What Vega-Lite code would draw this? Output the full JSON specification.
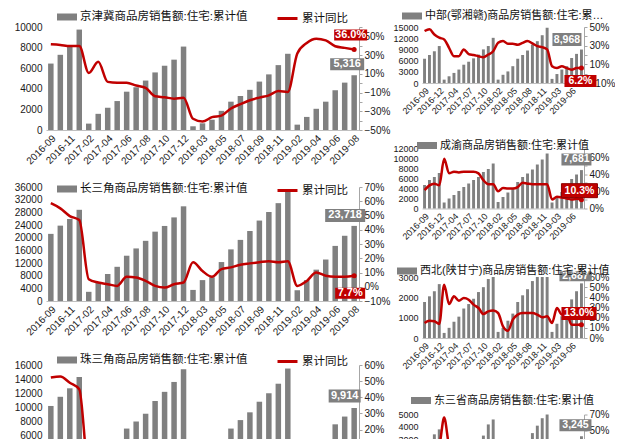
{
  "$schema": "https://vega.github.io/schema/vega-lite/v6.json",
  "padding": {"left": 14, "top": 6, "right": 0, "bottom": 0},
  "background": "white",
  "data": {"values": [
    {"m":"2016-09","jjj_amt":6450,"jjj_yoy":0.415,"csj_amt":21200,"csj_yoy":0.586,"zsj_amt":10200,"zsj_yoy":0.522,"zb_amt":6500,"zb_yoy":0.457,"cy_amt":4700,"cy_yoy":0.214,"xb_amt":1770,"xb_yoy":0.148,"dss_amt":2500,"dss_yoy":0.25},
    {"m":"2016-10","jjj_amt":7300,"jjj_yoy":0.408,"csj_amt":23800,"csj_yoy":0.55,"zsj_amt":11500,"zsj_yoy":0.529,"zb_amt":7500,"zb_yoy":0.475,"cy_amt":5700,"cy_yoy":0.27,"xb_amt":2050,"xb_yoy":0.17,"dss_amt":2900,"dss_yoy":0.22},
    {"m":"2016-11","jjj_amt":8200,"jjj_yoy":0.397,"csj_amt":25900,"csj_yoy":0.496,"zsj_amt":12700,"zsj_yoy":0.49,"zb_amt":8500,"zb_yoy":0.42,"cy_amt":6300,"cy_yoy":0.29,"xb_amt":2300,"xb_yoy":0.164,"dss_amt":3400,"dss_yoy":0.24},
    {"m":"2016-12","jjj_amt":9750,"jjj_yoy":0.397,"csj_amt":28800,"csj_yoy":0.468,"zsj_amt":14300,"zsj_yoy":0.45,"zb_amt":9900,"zb_yoy":0.385,"cy_amt":7100,"cy_yoy":0.27,"xb_amt":2650,"xb_yoy":0.138,"dss_amt":3800,"dss_yoy":0.30},
    {"m":"2017-02","jjj_amt":620,"jjj_yoy":0.11,"csj_amt":2900,"csj_yoy":0.053,"zsj_amt":1000,"zsj_yoy":-0.05,"zb_amt":900,"zb_yoy":0.367,"cy_amt":1200,"cy_yoy":0.58,"xb_amt":250,"xb_yoy":0.525,"dss_amt":300,"dss_yoy":0.66},
    {"m":"2017-03","jjj_amt":1570,"jjj_yoy":0.23,"csj_amt":5700,"csj_yoy":0.03,"zsj_amt":2300,"zsj_yoy":0.02,"zb_amt":1800,"zb_yoy":0.277,"cy_amt":2000,"cy_yoy":0.41,"xb_amt":500,"xb_yoy":0.334,"dss_amt":700,"dss_yoy":0.30},
    {"m":"2017-04","jjj_amt":2150,"jjj_yoy":0.014,"csj_amt":8500,"csj_yoy":0.018,"zsj_amt":3700,"zsj_yoy":0.05,"zb_amt":2700,"zb_yoy":0.187,"cy_amt":2700,"cy_yoy":0.43,"xb_amt":800,"xb_yoy":0.41,"dss_amt":1100,"dss_yoy":0.20},
    {"m":"2017-05","jjj_amt":2810,"jjj_yoy":0.005,"csj_amt":10800,"csj_yoy":0.006,"zsj_amt":5200,"zsj_yoy":0.03,"zb_amt":3600,"zb_yoy":0.187,"cy_amt":3500,"cy_yoy":0.42,"xb_amt":1050,"xb_yoy":0.367,"dss_amt":1500,"dss_yoy":0.15},
    {"m":"2017-06","jjj_amt":3720,"jjj_yoy":0.005,"csj_amt":14300,"csj_yoy":0.07,"zsj_amt":7000,"zsj_yoy":0.01,"zb_amt":4900,"zb_yoy":0.26,"cy_amt":4300,"cy_yoy":0.43,"xb_amt":1450,"xb_yoy":0.393,"dss_amt":1900,"dss_yoy":0.12},
    {"m":"2017-07","jjj_amt":4150,"jjj_yoy":-0.025,"csj_amt":16600,"csj_yoy":0.065,"zsj_amt":8000,"zsj_yoy":0.0,"zb_amt":5700,"zb_yoy":0.21,"cy_amt":5000,"cy_yoy":0.43,"xb_amt":1670,"xb_yoy":0.377,"dss_amt":2300,"dss_yoy":0.10},
    {"m":"2017-08","jjj_amt":4800,"jjj_yoy":-0.05,"csj_amt":19000,"csj_yoy":0.041,"zsj_amt":9100,"zsj_yoy":-0.02,"zb_amt":6600,"zb_yoy":0.20,"cy_amt":5700,"cy_yoy":0.43,"xb_amt":1930,"xb_yoy":0.328,"dss_amt":2700,"dss_yoy":0.08},
    {"m":"2017-09","jjj_amt":5590,"jjj_yoy":-0.14,"csj_amt":21900,"csj_yoy":0.006,"zsj_amt":10900,"zsj_yoy":-0.03,"zb_amt":7600,"zb_yoy":0.187,"cy_amt":6300,"cy_yoy":0.41,"xb_amt":2260,"xb_yoy":0.295,"dss_amt":2900,"dss_yoy":0.05},
    {"m":"2017-10","jjj_amt":6240,"jjj_yoy":-0.15,"csj_amt":23700,"csj_yoy":-0.006,"zsj_amt":12200,"zsj_yoy":-0.04,"zb_amt":9000,"zb_yoy":0.176,"cy_amt":7300,"cy_yoy":0.33,"xb_amt":2500,"xb_yoy":0.236,"dss_amt":3300,"dss_yoy":0.05},
    {"m":"2017-11","jjj_amt":6830,"jjj_yoy":-0.165,"csj_amt":26400,"csj_yoy":0.018,"zsj_amt":13600,"zsj_yoy":-0.06,"zb_amt":9900,"zb_yoy":0.205,"cy_amt":7900,"cy_yoy":0.284,"xb_amt":2900,"xb_yoy":0.262,"dss_amt":4200,"dss_yoy":0.06},
    {"m":"2017-12","jjj_amt":8100,"jjj_yoy":-0.155,"csj_amt":29900,"csj_yoy":0.03,"zsj_amt":15400,"zsj_yoy":-0.08,"zb_amt":12100,"zb_yoy":0.24,"cy_amt":9000,"cy_yoy":0.284,"xb_amt":3000,"xb_yoy":0.27,"dss_amt":4600,"dss_yoy":0.05},
    {"m":"2018-02","jjj_amt":360,"jjj_yoy":-0.38,"csj_amt":3500,"csj_yoy":0.172,"zsj_amt":900,"zsj_yoy":0.08,"zb_amt":900,"zb_yoy":0.33,"cy_amt":1300,"cy_yoy":0.20,"xb_amt":300,"xb_yoy":0.246,"dss_amt":300,"dss_yoy":0.0},
    {"m":"2018-03","jjj_amt":650,"jjj_yoy":-0.41,"csj_amt":6600,"csj_yoy":0.11,"zsj_amt":2100,"zsj_yoy":0.10,"zb_amt":2200,"zb_yoy":0.35,"cy_amt":2300,"cy_yoy":0.24,"xb_amt":500,"xb_yoy":0.115,"dss_amt":700,"dss_yoy":0.03},
    {"m":"2018-04","jjj_amt":1000,"jjj_yoy":-0.363,"csj_amt":7500,"csj_yoy":0.07,"zsj_amt":3500,"zsj_yoy":0.06,"zb_amt":3100,"zb_yoy":0.32,"cy_amt":3200,"cy_yoy":0.233,"xb_amt":850,"xb_yoy":0.072,"dss_amt":1100,"dss_yoy":0.05},
    {"m":"2018-05","jjj_amt":1860,"jjj_yoy":-0.346,"csj_amt":12300,"csj_yoy":0.124,"zsj_amt":5000,"zsj_yoy":0.04,"zb_amt":4500,"zb_yoy":0.32,"cy_amt":4000,"cy_yoy":0.233,"xb_amt":1200,"xb_yoy":0.18,"dss_amt":1500,"dss_yoy":0.08},
    {"m":"2018-06","jjj_amt":2750,"jjj_yoy":-0.27,"csj_amt":16300,"csj_yoy":0.136,"zsj_amt":7000,"zsj_yoy":0.03,"zb_amt":6500,"zb_yoy":0.31,"cy_amt":5300,"cy_yoy":0.25,"xb_amt":1770,"xb_yoy":0.23,"dss_amt":1900,"dss_yoy":0.10},
    {"m":"2018-07","jjj_amt":3300,"jjj_yoy":-0.224,"csj_amt":19300,"csj_yoy":0.155,"zsj_amt":8200,"zsj_yoy":0.04,"zb_amt":7500,"zb_yoy":0.33,"cy_amt":6300,"cy_yoy":0.30,"xb_amt":2100,"xb_yoy":0.246,"dss_amt":2300,"dss_yoy":0.08},
    {"m":"2018-08","jjj_amt":3900,"jjj_yoy":-0.182,"csj_amt":22100,"csj_yoy":0.164,"zsj_amt":9300,"zsj_yoy":0.05,"zb_amt":8700,"zb_yoy":0.35,"cy_amt":7000,"cy_yoy":0.29,"xb_amt":2400,"xb_yoy":0.246,"dss_amt":2800,"dss_yoy":0.07},
    {"m":"2018-09","jjj_amt":4700,"jjj_yoy":-0.154,"csj_amt":25400,"csj_yoy":0.172,"zsj_amt":10800,"zsj_yoy":0.04,"zb_amt":10300,"zb_yoy":0.324,"cy_amt":7800,"cy_yoy":0.284,"xb_amt":2800,"xb_yoy":0.246,"dss_amt":3500,"dss_yoy":0.08},
    {"m":"2018-10","jjj_amt":5400,"jjj_yoy":-0.13,"csj_amt":28100,"csj_yoy":0.179,"zsj_amt":12000,"zsj_yoy":0.03,"zb_amt":11200,"zb_yoy":0.295,"cy_amt":8800,"cy_yoy":0.284,"xb_amt":3000,"xb_yoy":0.23,"dss_amt":4100,"dss_yoy":0.06},
    {"m":"2018-11","jjj_amt":6300,"jjj_yoy":-0.084,"csj_amt":30900,"csj_yoy":0.172,"zsj_amt":13350,"zsj_yoy":0.02,"zb_amt":12800,"zb_yoy":0.284,"cy_amt":9800,"cy_yoy":0.284,"xb_amt":3000,"xb_yoy":0.203,"dss_amt":4700,"dss_yoy":0.05},
    {"m":"2018-12","jjj_amt":7400,"jjj_yoy":-0.094,"csj_amt":34600,"csj_yoy":0.179,"zsj_amt":15500,"zsj_yoy":0.01,"zb_amt":14800,"zb_yoy":0.26,"cy_amt":11000,"cy_yoy":0.284,"xb_amt":3000,"xb_yoy":0.213,"dss_amt":5000,"dss_yoy":0.04},
    {"m":"2019-02","jjj_amt":520,"jjj_yoy":0.317,"csj_amt":3400,"csj_yoy":0.006,"zsj_amt":1000,"zsj_yoy":-0.02,"zb_amt":1100,"zb_yoy":0.08,"cy_amt":1200,"cy_yoy":0.105,"xb_amt":300,"xb_yoy":0.148,"dss_amt":300,"dss_yoy":0.10},
    {"m":"2019-03","jjj_amt":1270,"jjj_yoy":0.429,"csj_amt":6600,"csj_yoy":0.041,"zsj_amt":2300,"zsj_yoy":0.03,"zb_amt":2400,"zb_yoy":0.06,"cy_amt":2100,"cy_yoy":0.136,"xb_amt":700,"xb_yoy":0.295,"dss_amt":800,"dss_yoy":0.08},
    {"m":"2019-04","jjj_amt":2060,"jjj_yoy":0.474,"csj_amt":9900,"csj_yoy":0.10,"zsj_amt":3800,"zsj_yoy":0.06,"zb_amt":3600,"zb_yoy":0.08,"cy_amt":3300,"cy_yoy":0.128,"xb_amt":1070,"xb_yoy":0.23,"dss_amt":1300,"dss_yoy":0.06},
    {"m":"2019-05","jjj_amt":2750,"jjj_yoy":0.457,"csj_amt":13100,"csj_yoy":0.077,"zsj_amt":5300,"zsj_yoy":0.07,"zb_amt":4500,"zb_yoy":0.06,"cy_amt":4600,"cy_yoy":0.117,"xb_amt":1400,"xb_yoy":0.23,"dss_amt":1800,"dss_yoy":0.05},
    {"m":"2019-06","jjj_amt":3860,"jjj_yoy":0.394,"csj_amt":17400,"csj_yoy":0.07,"zsj_amt":7600,"zsj_yoy":0.08,"zb_amt":6700,"zb_yoy":0.043,"cy_amt":5900,"cy_yoy":0.105,"xb_amt":1900,"xb_yoy":0.13,"dss_amt":2300,"dss_yoy":0.04},
    {"m":"2019-07","jjj_amt":4600,"jjj_yoy":0.377,"csj_amt":20600,"csj_yoy":0.07,"zsj_amt":8700,"zsj_yoy":0.09,"zb_amt":7800,"zb_yoy":0.06,"cy_amt":6800,"cy_yoy":0.113,"xb_amt":2300,"xb_yoy":0.13,"dss_amt":2800,"dss_yoy":0.03},
    {"m":"2019-08","jjj_amt":5316,"jjj_yoy":0.36,"csj_amt":23718,"csj_yoy":0.077,"zsj_amt":9914,"zsj_yoy":0.10,"zb_amt":8968,"zb_yoy":0.062,"cy_amt":7681,"cy_yoy":0.103,"xb_amt":2687,"xb_yoy":0.13,"dss_amt":3245,"dss_yoy":0.03}
  ]},
  "resolve": {"scale": {"fill": "independent", "stroke": "independent"}},
  "spacing": 2,
  "hconcat": [
    {
      "spacing": 12,
      "resolve": {"scale": {"fill": "independent", "stroke": "independent"}},
      "vconcat": [
        {
          "width": 313, "height": 103,
          "resolve": {"scale": {"y": "independent"}},
          "layer": [
            {
              "encoding": {
                "x": {"field": "m", "type": "ordinal", "title": null, "scale": {"paddingInner": 0.42, "paddingOuter": 0.22}, "axis": {"values": ["2016-09","2016-11","2017-02","2017-04","2017-06","2017-08","2017-10","2017-12","2018-03","2018-05","2018-07","2018-09","2018-11","2019-02","2019-04","2019-06","2019-08"], "labelFontSize": 10}},
                "y": {"field": "jjj_amt", "type": "quantitative", "title": null, "scale": {"domain": [0, 10000], "nice": false}, "axis": {"values": [0,2000,4000,6000,8000,10000], "format": "d", "labelFontSize": 10}}
              },
              "layer": [
                {"mark": {"type": "bar"}, "encoding": {"fill": {"datum": "京津冀商品房销售额:住宅:累计值", "title": null, "scale": {"range": ["#808080"]}, "legend": {"offset": 2, "labelLimit": 400, "symbolType": "M-1,-0.35H1V0.35H-1Z", "symbolSize": 400, "symbolStrokeWidth": 0}}}},
                {"transform": [{"filter": "datum.m == '2019-08'"}], "mark": {"type": "point", "shape": "M-1.2,-0.85H0.5V-0.25H-1.2Z", "size": 1600, "filled": true, "opacity": 1, "color": "#7f7f7f", "strokeWidth": 0}},
                {"transform": [{"filter": "datum.m == '2019-08'"}], "mark": {"type": "text", "dx": -7, "dy": -11, "color": "white", "fontWeight": "bold", "fontSize": 11}, "encoding": {"text": {"field": "jjj_amt", "format": ",d"}}}
              ]
            },
            {
              "encoding": {
                "x": {"field": "m", "type": "ordinal", "title": null},
                "y": {"field": "jjj_yoy", "type": "quantitative", "title": null, "scale": {"domain": [-0.5, 0.6], "nice": false}, "axis": {"orient": "right", "values": [-0.5,-0.4,-0.3,-0.2,-0.1,0,0.1,0.2,0.3,0.4,0.5,0.6], "format": ".0%", "labelFontSize": 10}}
              },
              "layer": [
                {"mark": {"type": "line", "strokeWidth": 2.5, "interpolate": "monotone"}, "encoding": {"stroke": {"datum": "累计同比", "title": null, "scale": {"range": ["#c00000"]}, "legend": {"offset": 2, "symbolStrokeWidth": 3, "symbolSize": 400}}}},
                {"transform": [{"filter": "datum.m == '2019-08'"}], "mark": {"type": "point", "filled": true, "opacity": 1, "color": "#c00000", "size": 25}},
                {"transform": [{"filter": "datum.m == '2019-08'"}], "mark": {"type": "point", "shape": "M-1,-1H0.65V-0.45H-1Z", "size": 1600, "filled": true, "opacity": 1, "color": "#c00000", "strokeWidth": 0}},
                {"transform": [{"filter": "datum.m == '2019-08'"}], "mark": {"type": "text", "dx": -3.5, "dy": -14.5, "color": "white", "fontWeight": "bold", "fontSize": 11}, "encoding": {"text": {"field": "jjj_yoy", "format": ".1%"}}}
              ]
            }
          ]
        },
        {
          "width": 313, "height": 114,
          "resolve": {"scale": {"y": "independent"}},
          "layer": [
            {
              "encoding": {
                "x": {"field": "m", "type": "ordinal", "title": null, "scale": {"paddingInner": 0.42, "paddingOuter": 0.22}, "axis": {"values": ["2016-09","2016-11","2017-02","2017-04","2017-06","2017-08","2017-10","2017-12","2018-03","2018-05","2018-07","2018-09","2018-11","2019-02","2019-04","2019-06","2019-08"], "labelFontSize": 10}},
                "y": {"field": "csj_amt", "type": "quantitative", "title": null, "scale": {"domain": [0, 36000], "nice": false}, "axis": {"values": [0,4000,8000,12000,16000,20000,24000,28000,32000,36000], "format": "d", "labelFontSize": 10}}
              },
              "layer": [
                {"mark": {"type": "bar"}, "encoding": {"fill": {"datum": "长三角商品房销售额:住宅:累计值", "title": null, "scale": {"range": ["#808080"]}, "legend": {"offset": -10, "labelLimit": 400, "symbolType": "M-1,-0.35H1V0.35H-1Z", "symbolSize": 400, "symbolStrokeWidth": 0}}}},
                {"transform": [{"filter": "datum.m == '2019-08'"}], "mark": {"type": "point", "shape": "M-1.45,-0.85H0.55V-0.2H-1.45Z", "size": 1600, "filled": true, "opacity": 1, "color": "#7f7f7f", "strokeWidth": 0}},
                {"transform": [{"filter": "datum.m == '2019-08'"}], "mark": {"type": "text", "dx": -9, "dy": -10.5, "color": "white", "fontWeight": "bold", "fontSize": 11}, "encoding": {"text": {"field": "csj_amt", "format": ",d"}}}
              ]
            },
            {
              "encoding": {
                "x": {"field": "m", "type": "ordinal", "title": null},
                "y": {"field": "csj_yoy", "type": "quantitative", "title": null, "scale": {"domain": [-0.1, 0.7], "nice": false}, "axis": {"orient": "right", "values": [-0.1,0,0.1,0.2,0.3,0.4,0.5,0.6,0.7], "format": ".0%", "labelFontSize": 10}}
              },
              "layer": [
                {"mark": {"type": "line", "strokeWidth": 2.5, "interpolate": "monotone"}, "encoding": {"stroke": {"datum": "累计同比", "title": null, "scale": {"range": ["#c00000"]}, "legend": {"offset": -10, "symbolStrokeWidth": 3, "symbolSize": 400}}}},
                {"transform": [{"filter": "datum.m == '2019-08'"}], "mark": {"type": "point", "filled": true, "opacity": 1, "color": "#c00000", "size": 25}},
                {"transform": [{"filter": "datum.m == '2019-08'"}], "mark": {"type": "point", "shape": "M-0.95,0.6H0.55V1.15H-0.95Z", "size": 1600, "filled": true, "opacity": 1, "color": "#c00000", "strokeWidth": 0}},
                {"transform": [{"filter": "datum.m == '2019-08'"}], "mark": {"type": "text", "dx": -4, "dy": 17.5, "color": "white", "fontWeight": "bold", "fontSize": 11}, "encoding": {"text": {"field": "csj_yoy", "format": ".1%"}}}
              ]
            }
          ]
        },
        {
          "width": 313, "height": 113,
          "resolve": {"scale": {"y": "independent"}},
          "layer": [
            {
              "encoding": {
                "x": {"field": "m", "type": "ordinal", "title": null, "scale": {"paddingInner": 0.42, "paddingOuter": 0.22}, "axis": {"values": ["2016-09","2016-11","2017-02","2017-04","2017-06","2017-08","2017-10","2017-12","2018-03","2018-05","2018-07","2018-09","2018-11","2019-02","2019-04","2019-06","2019-08"], "labelFontSize": 10}},
                "y": {"field": "zsj_amt", "type": "quantitative", "title": null, "scale": {"domain": [0, 16000], "nice": false}, "axis": {"values": [0,2000,4000,6000,8000,10000,12000,14000,16000], "format": "d", "labelFontSize": 10}}
              },
              "layer": [
                {"mark": {"type": "bar"}, "encoding": {"fill": {"datum": "珠三角商品房销售额:住宅:累计值", "title": null, "scale": {"range": ["#808080"]}, "legend": {"offset": -3, "labelLimit": 400, "symbolType": "M-1,-0.35H1V0.35H-1Z", "symbolSize": 400, "symbolStrokeWidth": 0}}}},
                {"transform": [{"filter": "datum.m == '2019-08'"}], "mark": {"type": "point", "shape": "M-1.275,-0.925H0.325V-0.275H-1.275Z", "size": 1600, "filled": true, "opacity": 1, "color": "#7f7f7f", "strokeWidth": 0}},
                {"transform": [{"filter": "datum.m == '2019-08'"}], "mark": {"type": "text", "dx": -9.5, "dy": -12, "color": "white", "fontWeight": "bold", "fontSize": 11}, "encoding": {"text": {"field": "zsj_amt", "format": ",d"}}}
              ]
            },
            {
              "encoding": {
                "x": {"field": "m", "type": "ordinal", "title": null},
                "y": {"field": "zsj_yoy", "type": "quantitative", "title": null, "scale": {"domain": [-0.1, 0.6], "nice": false}, "axis": {"orient": "right", "values": [-0.1,0,0.1,0.2,0.3,0.4,0.5,0.6], "format": ".0%", "labelFontSize": 10}}
              },
              "layer": [
                {"mark": {"type": "line", "strokeWidth": 2.5, "interpolate": "monotone"}, "encoding": {"stroke": {"datum": "累计同比", "title": null, "scale": {"range": ["#c00000"]}, "legend": {"offset": -3, "symbolStrokeWidth": 3, "symbolSize": 400}}}},
                {"transform": [{"filter": "datum.m == '2019-08'"}], "mark": {"type": "point", "filled": true, "opacity": 1, "color": "#c00000", "size": 25}},
                {"transform": [{"filter": "datum.m == '2019-08'"}], "mark": {"type": "point", "shape": "M-0.95,0.6H0.55V1.15H-0.95Z", "size": 1600, "filled": true, "opacity": 1, "color": "#c00000", "strokeWidth": 0}},
                {"transform": [{"filter": "datum.m == '2019-08'"}], "mark": {"type": "text", "dx": -4, "dy": 17.5, "color": "white", "fontWeight": "bold", "fontSize": 11}, "encoding": {"text": {"field": "zsj_yoy", "format": ".1%"}}}
              ]
            }
          ]
        }
      ]
    },
    {
      "spacing": 19.5,
      "resolve": {"scale": {"fill": "independent", "stroke": "independent"}},
      "vconcat": [
        {
          "width": 162, "height": 56,
          "resolve": {"scale": {"y": "independent"}},
          "layer": [
            {
              "encoding": {
                "x": {"field": "m", "type": "ordinal", "title": null, "scale": {"paddingInner": 0.4, "paddingOuter": 0.22}, "axis": {"values": ["2016-09","2016-12","2017-04","2017-07","2017-10","2018-02","2018-05","2018-08","2018-11","2019-03","2019-06"], "labelFontSize": 9}},
                "y": {"field": "zb_amt", "type": "quantitative", "title": null, "scale": {"domain": [0, 15000], "nice": false}, "axis": {"values": [0,3000,6000,9000,12000,15000], "format": "d", "labelFontSize": 9}}
              },
              "layer": [
                {"mark": {"type": "bar"}, "encoding": {"fill": {"datum": "中部(鄂湘赣)商品房销售额:住宅:累计值", "title": null, "scale": {"range": ["#808080"]}, "legend": {"offset": 6, "labelFontSize": 11, "labelLimit": 182, "symbolType": "M-1,-0.35H1V0.35H-1Z", "symbolSize": 400, "symbolStrokeWidth": 0}}}},
                {"transform": [{"filter": "datum.m == '2019-08'"}], "mark": {"type": "point", "shape": "M-1.45,-0.825H0V-0.175H-1.45Z", "size": 1600, "filled": true, "opacity": 1, "color": "#7f7f7f", "strokeWidth": 0}},
                {"transform": [{"filter": "datum.m == '2019-08'"}], "mark": {"type": "text", "dx": -14.5, "dy": -10, "color": "white", "fontWeight": "bold", "fontSize": 10.5}, "encoding": {"text": {"field": "zb_amt", "format": ",d"}}}
              ]
            },
            {
              "encoding": {
                "x": {"field": "m", "type": "ordinal", "title": null},
                "y": {"field": "zb_yoy", "type": "quantitative", "title": null, "scale": {"domain": [-0.1, 0.5], "nice": false}, "axis": {"orient": "right", "values": [-0.1,0,0.1,0.2,0.3,0.4,0.5], "format": ".0%", "labelFontSize": 10}}
              },
              "layer": [
                {"mark": {"type": "line", "strokeWidth": 2.5, "interpolate": "monotone", "color": "#c00000"}},
                {"transform": [{"filter": "datum.m == '2019-08'"}], "mark": {"type": "point", "filled": true, "opacity": 1, "color": "#c00000", "size": 25}},
                {"transform": [{"filter": "datum.m == '2019-08'"}], "mark": {"type": "point", "shape": "M-0.85,0.35H0.75V0.95H-0.85Z", "size": 1600, "filled": true, "opacity": 1, "color": "#c00000", "strokeWidth": 0}},
                {"transform": [{"filter": "datum.m == '2019-08'"}], "mark": {"type": "text", "dx": -1, "dy": 13, "color": "white", "fontWeight": "bold", "fontSize": 10.5}, "encoding": {"text": {"field": "zb_yoy", "format": ".1%"}}}
              ]
            }
          ]
        },
        {
          "width": 162, "height": 60,
          "resolve": {"scale": {"y": "independent"}},
          "layer": [
            {
              "encoding": {
                "x": {"field": "m", "type": "ordinal", "title": null, "scale": {"paddingInner": 0.4, "paddingOuter": 0.22}, "axis": {"values": ["2016-09","2016-12","2017-04","2017-07","2017-10","2018-02","2018-05","2018-08","2018-11","2019-03","2019-06"], "labelFontSize": 9}},
                "y": {"field": "cy_amt", "type": "quantitative", "title": null, "scale": {"domain": [0, 12000], "nice": false}, "axis": {"values": [0,2000,4000,6000,8000,10000,12000], "format": "d", "labelFontSize": 9}}
              },
              "layer": [
                {"mark": {"type": "bar"}, "encoding": {"fill": {"datum": "成渝商品房销售额:住宅:累计值", "title": null, "scale": {"range": ["#808080"]}, "legend": {"offset": -2, "labelFontSize": 11, "labelLimit": 300, "symbolType": "M-1,-0.35H1V0.35H-1Z", "symbolSize": 400, "symbolStrokeWidth": 0}}}},
                {"transform": [{"filter": "datum.m == '2019-08'"}], "mark": {"type": "point", "shape": "M-1,-0.83H0.5V-0.23H-1Z", "size": 1600, "filled": true, "opacity": 1, "color": "#7f7f7f", "strokeWidth": 0}},
                {"transform": [{"filter": "datum.m == '2019-08'"}], "mark": {"type": "text", "dx": -5, "dy": -10.6, "color": "white", "fontWeight": "bold", "fontSize": 10.5}, "encoding": {"text": {"field": "cy_amt", "format": ",d"}}}
              ]
            },
            {
              "encoding": {
                "x": {"field": "m", "type": "ordinal", "title": null},
                "y": {"field": "cy_yoy", "type": "quantitative", "title": null, "scale": {"domain": [0, 0.7], "nice": false}, "axis": {"orient": "right", "values": [0,0.1,0.2,0.3,0.4,0.5,0.6,0.7], "format": ".0%", "labelFontSize": 10}}
              },
              "layer": [
                {"mark": {"type": "line", "strokeWidth": 2.5, "interpolate": "monotone", "color": "#c00000"}},
                {"transform": [{"filter": "datum.m == '2019-08'"}], "mark": {"type": "point", "filled": true, "opacity": 1, "color": "#c00000", "size": 25}},
                {"transform": [{"filter": "datum.m == '2019-08'"}], "mark": {"type": "point", "shape": "M-1,-0.8H0.8V-0.1H-1Z", "size": 1600, "filled": true, "opacity": 1, "color": "#c00000", "stroke": "#8b0000", "strokeWidth": 1}},
                {"transform": [{"filter": "datum.m == '2019-08'"}], "mark": {"type": "text", "dx": -2, "dy": -9, "color": "white", "fontWeight": "bold", "fontSize": 10.5}, "encoding": {"text": {"field": "cy_yoy", "format": ".1%"}}}
              ]
            }
          ]
        },
        {
          "width": 162, "height": 61,
          "resolve": {"scale": {"y": "independent"}},
          "layer": [
            {
              "encoding": {
                "x": {"field": "m", "type": "ordinal", "title": null, "scale": {"paddingInner": 0.4, "paddingOuter": 0.22}, "axis": {"values": ["2016-09","2016-12","2017-04","2017-07","2017-10","2018-02","2018-05","2018-08","2018-11","2019-03","2019-06"], "labelFontSize": 9}},
                "y": {"field": "xb_amt", "type": "quantitative", "title": null, "scale": {"domain": [0, 3000], "nice": false}, "axis": {"values": [0,1000,2000,3000], "format": "d", "labelFontSize": 9}}
              },
              "layer": [
                {"mark": {"type": "bar"}, "encoding": {"fill": {"datum": "西北(陕甘宁)商品房销售额:住宅:累计值", "title": null, "scale": {"range": ["#808080"]}, "legend": {"offset": 1, "labelFontSize": 11, "labelLimit": 300, "symbolType": "M-1,-0.35H1V0.35H-1Z", "symbolSize": 400, "symbolStrokeWidth": 0}}}},
                {"transform": [{"filter": "datum.m == '2019-08'"}], "mark": {"type": "point", "shape": "M-1.1,-0.6H0.5V-0.1H-1.1Z", "size": 1600, "filled": true, "opacity": 1, "color": "#7f7f7f", "strokeWidth": 0}},
                {"transform": [{"filter": "datum.m == '2019-08'"}], "mark": {"type": "text", "dx": -6, "dy": -7, "color": "white", "fontWeight": "bold", "fontSize": 10.5}, "encoding": {"text": {"field": "xb_amt", "format": ",d"}}}
              ]
            },
            {
              "encoding": {
                "x": {"field": "m", "type": "ordinal", "title": null},
                "y": {"field": "xb_yoy", "type": "quantitative", "title": null, "scale": {"domain": [0, 0.6], "nice": false}, "axis": {"orient": "right", "values": [0,0.1,0.2,0.3,0.4,0.5,0.6], "format": ".0%", "labelFontSize": 10}}
              },
              "layer": [
                {"mark": {"type": "line", "strokeWidth": 2.5, "interpolate": "monotone", "color": "#c00000"}},
                {"transform": [{"filter": "datum.m == '2019-08'"}], "mark": {"type": "point", "filled": true, "opacity": 1, "color": "#c00000", "size": 25}},
                {"transform": [{"filter": "datum.m == '2019-08'"}], "mark": {"type": "point", "shape": "M-1,-0.89H0.75V-0.24H-1Z", "size": 1600, "filled": true, "opacity": 1, "color": "#c00000", "strokeWidth": 0}},
                {"transform": [{"filter": "datum.m == '2019-08'"}], "mark": {"type": "text", "dx": -2.5, "dy": -11.3, "color": "white", "fontWeight": "bold", "fontSize": 10.5}, "encoding": {"text": {"field": "xb_yoy", "format": ".1%"}}}
              ]
            }
          ]
        },
        {
          "width": 162, "height": 62,
          "resolve": {"scale": {"y": "independent"}},
          "layer": [
            {
              "encoding": {
                "x": {"field": "m", "type": "ordinal", "title": null, "scale": {"paddingInner": 0.4, "paddingOuter": 0.22}, "axis": {"values": ["2016-09","2016-12","2017-04","2017-07","2017-10","2018-02","2018-05","2018-08","2018-11","2019-03","2019-06"], "labelFontSize": 9}},
                "y": {"field": "dss_amt", "type": "quantitative", "title": null, "scale": {"domain": [0, 5000], "nice": false}, "axis": {"values": [0,1000,2000,3000,4000,5000], "format": "d", "labelFontSize": 9}}
              },
              "layer": [
                {"mark": {"type": "bar"}, "encoding": {"fill": {"datum": "东三省商品房销售额:住宅:累计值", "title": null, "scale": {"range": ["#808080"]}, "legend": {"offset": 9, "labelFontSize": 11, "labelLimit": 300, "symbolType": "M-1,-0.35H1V0.35H-1Z", "symbolSize": 400, "symbolStrokeWidth": 0}}}},
                {"transform": [{"filter": "datum.m == '2019-08'"}], "mark": {"type": "point", "shape": "M-1.1,-0.85H0.5V-0.25H-1.1Z", "size": 1600, "filled": true, "opacity": 1, "color": "#7f7f7f", "strokeWidth": 0}},
                {"transform": [{"filter": "datum.m == '2019-08'"}], "mark": {"type": "text", "dx": -6, "dy": -11, "color": "white", "fontWeight": "bold", "fontSize": 10.5}, "encoding": {"text": {"field": "dss_amt", "format": ",d"}}}
              ]
            },
            {
              "encoding": {
                "x": {"field": "m", "type": "ordinal", "title": null},
                "y": {"field": "dss_yoy", "type": "quantitative", "title": null, "scale": {"domain": [-0.1, 0.7], "nice": false}, "axis": {"orient": "right", "values": [-0.1,0.1,0.3,0.5,0.7], "format": ".0%", "labelFontSize": 10}}
              },
              "layer": [
                {"mark": {"type": "line", "strokeWidth": 2.5, "interpolate": "monotone", "color": "#c00000"}},
                {"transform": [{"filter": "datum.m == '2019-08'"}], "mark": {"type": "point", "filled": true, "opacity": 1, "color": "#c00000", "size": 25}},
                {"transform": [{"filter": "datum.m == '2019-08'"}], "mark": {"type": "point", "shape": "M-0.85,0.35H0.75V0.95H-0.85Z", "size": 1600, "filled": true, "opacity": 1, "color": "#c00000", "strokeWidth": 0}},
                {"transform": [{"filter": "datum.m == '2019-08'"}], "mark": {"type": "text", "dx": -1, "dy": 13, "color": "white", "fontWeight": "bold", "fontSize": 10.5}, "encoding": {"text": {"field": "dss_yoy", "format": ".1%"}}}
              ]
            }
          ]
        }
      ]
    }
  ],
  "config": {
    "font": "Liberation Sans, Noto Sans CJK SC",
    "view": {"stroke": null},
    "axis": {"grid": false, "labelColor": "#1a1a1a"},
    "axisLeft": {"domain": false, "ticks": false, "labelPadding": 4},
    "axisRight": {"domainColor": "#a6a6a6", "tickColor": "#a6a6a6", "tickSize": 3, "labelPadding": 2},
    "axisBottom": {"labelAngle": -45, "ticks": false, "domainColor": "#bfbfbf", "labelPadding": 3},
    "legend": {"orient": "top", "labelFontSize": 11.5, "labelColor": "#111", "padding": 0, "labelOffset": 3, "layout": {"top": {"anchor": "middle", "direction": "horizontal", "margin": 28}}}
  }
}
